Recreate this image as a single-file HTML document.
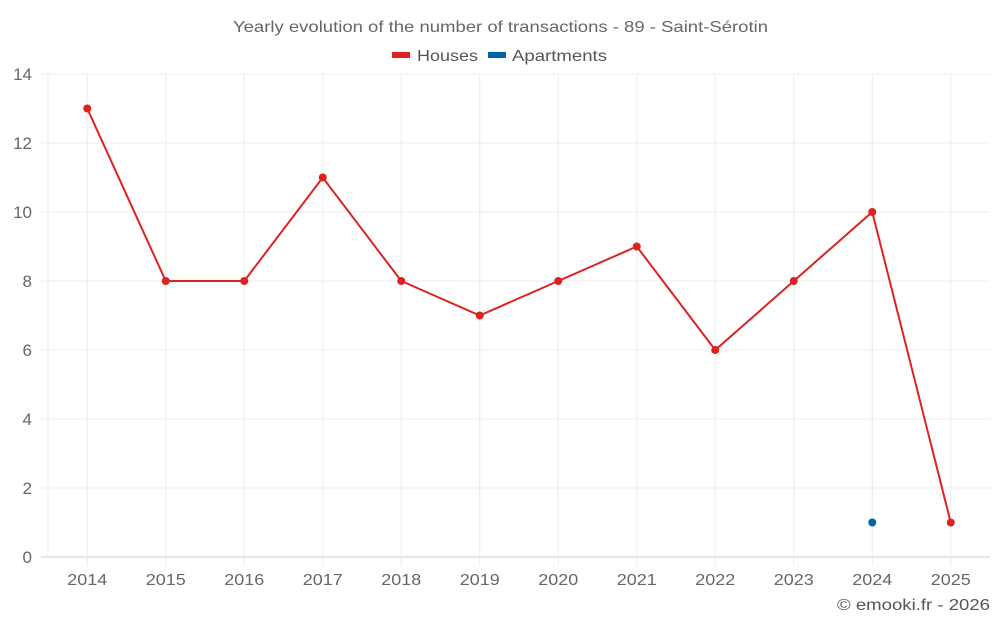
<!DOCTYPE html>
<html><head><meta charset="utf-8"><style>
body{margin:0;background:#fff;font-family:"Liberation Sans",sans-serif}
svg text{font-family:"Liberation Sans",sans-serif}
</style></head><body>
<svg id="c" width="1000" height="625">
<text x="233" y="32" textLength="535" lengthAdjust="spacingAndGlyphs" font-size="16" fill="#666">Yearly evolution of the number of transactions - 89 - Saint-Sérotin</text>
<g>
<g><rect x="392" y="52" width="18" height="6" fill="#dd2222"/><text x="417" y="61" textLength="61" lengthAdjust="spacingAndGlyphs" font-size="16" fill="#555">Houses</text></g>
<g><rect x="488" y="52" width="18" height="6" fill="#0066aa"/><text x="512" y="61" textLength="95" lengthAdjust="spacingAndGlyphs" font-size="16" fill="#555">Apartments</text></g>
</g>
<g id="grid"></g><g id="axes"></g><g id="marks"></g>
<text x="837" y="610" textLength="153" lengthAdjust="spacingAndGlyphs" font-size="16" fill="#555">© emooki.fr - 2026</text>
</svg>
<script>
const years=["2014","2015","2016","2017","2018","2019","2020","2021","2022","2023","2024","2025"];
const houses=[13,8,8,11,8,7,8,9,6,8,10,1];
const apartments=[null,null,null,null,null,null,null,null,null,null,1,null];
const yTicks=[0,2,4,6,8,10,12,14];
const L=48,R=990,T=74,B=557,yMax=14;
const bw=(R-L)/years.length;
const xs=i=>L+bw*(i+0.5);
const ys=v=>B-(B-T)*v/yMax;
const NS="http://www.w3.org/2000/svg";
function mk(p,tag,attrs){const e=document.createElementNS(NS,tag);for(const k in attrs)e.setAttribute(k,attrs[k]);document.getElementById(p).appendChild(e);return e;}
yTicks.forEach(t=>{
 const g=mk('grid','line',{x1:41,x2:R,y1:ys(t),y2:ys(t),stroke:t===0?'#ccc':'#ececec'});
 
 
 const tx=mk('axes','text',{x:32,y:ys(t)+6,'text-anchor':'end','font-size':17,fill:'#666'});
 tx.textContent=t;
 
 
});
mk('grid','line',{x1:L,x2:L,y1:T,y2:B,stroke:'#ececec'});
years.forEach((y,i)=>{
 const g=mk('grid','line',{x1:xs(i),x2:xs(i),y1:T,y2:B+9,stroke:'#ececec'});
 
 
 const tx=mk('axes','text',{x:xs(i)-20,y:585,textLength:40,lengthAdjust:'spacingAndGlyphs','font-size':16,fill:'#666'});
 tx.textContent=y;
 
 
});
const pl=mk('marks','polyline',{points:houses.map((v,i)=>xs(i)+','+ys(v)).join(' '),fill:'none',stroke:'#dd2222','stroke-width':2});


houses.forEach((v,i)=>{
 const c=mk('marks','circle',{cx:xs(i),cy:ys(v),r:4,fill:'#dd2222'});
 
 
});
apartments.forEach((v,i)=>{
 if(v==null)return;
 const c=mk('marks','circle',{cx:xs(i),cy:ys(v),r:4,fill:'#0066aa'});
 
 
});
</script>
</body></html>
